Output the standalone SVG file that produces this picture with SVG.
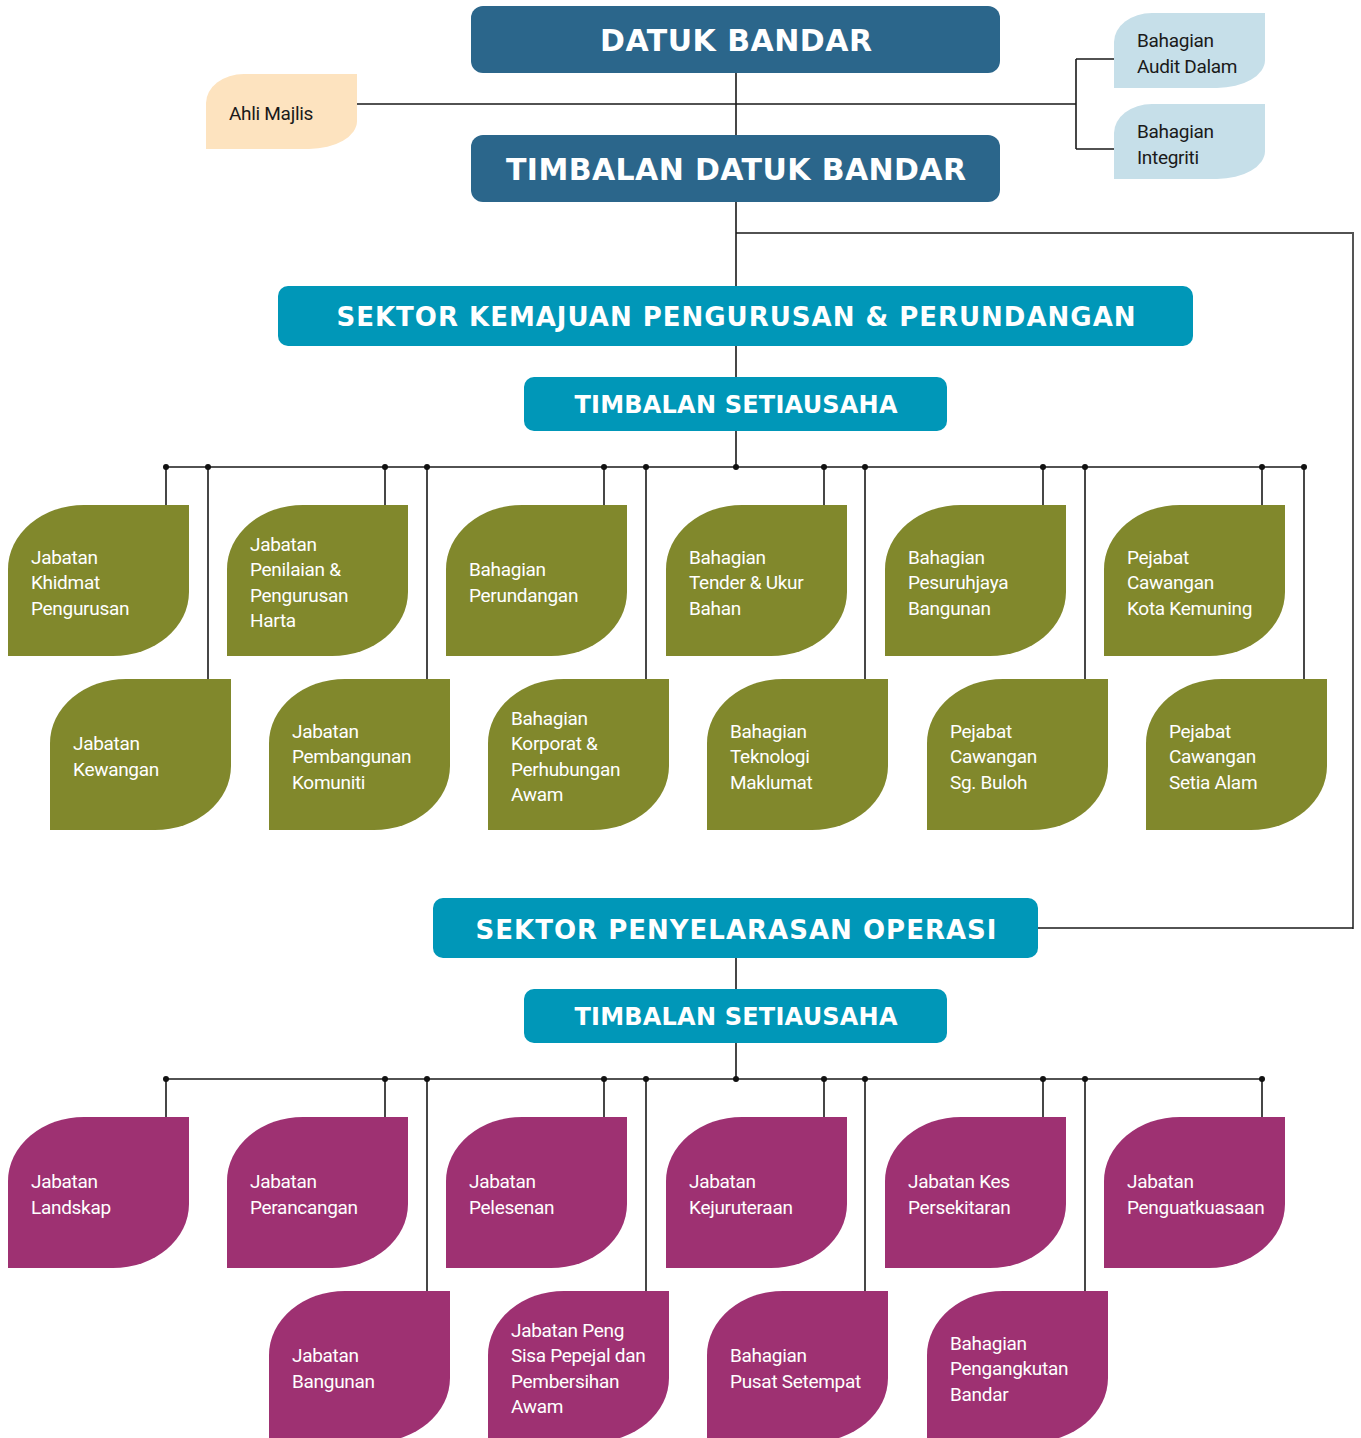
<svg xmlns="http://www.w3.org/2000/svg" xmlns:xlink="http://www.w3.org/1999/xlink" width="1361" height="1438" viewBox="0 0 1361 1438">
<style>
.hdr{font-family:"DejaVu Sans","Open Sans",sans-serif;font-weight:700;fill:#fff;text-anchor:middle}
.lf{font-family:Roboto,"Liberation Sans",sans-serif;font-size:19px;fill:#fff;letter-spacing:-0.3px}
.dk{font-family:Roboto,"Liberation Sans",sans-serif;font-size:19px;fill:#1a1a1a;letter-spacing:-0.3px}
.ln{stroke:#1a1a1a;stroke-width:1.6;fill:none}
.ln2{stroke:#555;stroke-width:2;fill:none}
.g{fill:#81882c}
.m{fill:#9e3172}
.db{fill:#2b668b}
.tl{fill:#0097b8}
</style>
<defs>
<path id="leaf" d="M0,151 V64 A76 64 0 0 1 76,0 H181 V87 A76 64 0 0 1 105,151 Z"/>
<path id="small" d="M0,75 V29 A38 29 0 0 1 38,0 H151 V47 A48 28 0 0 1 103,75 Z"/>
</defs>

<g id="connectors">
<path class="ln" d="M736,73 V135 M357,104 H1076 M1076,59 V149 M1076,59 H1114 M1076,149 H1114"/>
<path class="ln" d="M736,202 V286 M736,233 H1353"/>
<path class="ln2" d="M1353,232 V929"/>
<path class="ln" d="M1353,928 H1038"/>
<path class="ln" d="M736,346 V377 M736,431 V467 M166,467 H1305"/>
<path class="ln" d="M166,467 V505 M385,467 V505 M604,467 V505 M824,467 V505 M1043,467 V505 M1262,467 V505"/>
<path class="ln" d="M208,467 V679 M427,467 V679 M646,467 V679 M865,467 V679 M1085,467 V679 M1304,467 V679"/>
<path class="ln" d="M736,958 V989 M736,1043 V1079 M166,1079 H1263"/>
<path class="ln" d="M166,1079 V1117 M385,1079 V1117 M604,1079 V1117 M824,1079 V1117 M1043,1079 V1117 M1262,1079 V1117"/>
<path class="ln" d="M427,1079 V1291 M646,1079 V1291 M865,1079 V1291 M1085,1079 V1291"/>
<g fill="#111">
<circle cx="166" cy="467" r="3"/><circle cx="208" cy="467" r="3"/><circle cx="385" cy="467" r="3"/><circle cx="427" cy="467" r="3"/><circle cx="604" cy="467" r="3"/><circle cx="646" cy="467" r="3"/><circle cx="736" cy="467" r="3"/><circle cx="824" cy="467" r="3"/><circle cx="865" cy="467" r="3"/><circle cx="1043" cy="467" r="3"/><circle cx="1085" cy="467" r="3"/><circle cx="1262" cy="467" r="3"/><circle cx="1304" cy="467" r="3"/>
<circle cx="166" cy="1079" r="3"/><circle cx="385" cy="1079" r="3"/><circle cx="427" cy="1079" r="3"/><circle cx="604" cy="1079" r="3"/><circle cx="646" cy="1079" r="3"/><circle cx="736" cy="1079" r="3"/><circle cx="824" cy="1079" r="3"/><circle cx="865" cy="1079" r="3"/><circle cx="1043" cy="1079" r="3"/><circle cx="1085" cy="1079" r="3"/><circle cx="1262" cy="1079" r="3"/>
</g>
</g>

<g id="datuk-bandar"><rect class="db" x="471" y="6" width="529" height="67" rx="12"/><text class="hdr" x="736" y="51" font-size="30" textLength="272" lengthAdjust="spacing">DATUK BANDAR</text></g>
<g id="timbalan-datuk-bandar"><rect class="db" x="471" y="135" width="529" height="67" rx="12"/><text class="hdr" x="736" y="180" font-size="30" textLength="460" lengthAdjust="spacing">TIMBALAN DATUK BANDAR</text></g>
<g id="ahli-majlis"><use xlink:href="#small" x="206" y="74" fill="#fde3bf"/><text class="dk" x="229" y="120">Ahli Majlis</text></g>
<g id="audit-dalam"><use xlink:href="#small" x="1114" y="13" fill="#c6dfe9"/><text class="dk" x="1137" y="47">Bahagian<tspan x="1137" dy="25.5">Audit Dalam</tspan></text></g>
<g id="integriti"><use xlink:href="#small" x="1114" y="104" fill="#c6dfe9"/><text class="dk" x="1137" y="138">Bahagian<tspan x="1137" dy="25.5">Integriti</tspan></text></g>

<g id="sektor-kemajuan"><rect class="tl" x="278" y="286" width="915" height="60" rx="10"/><text class="hdr" x="736" y="326" font-size="26" textLength="799" lengthAdjust="spacing">SEKTOR KEMAJUAN PENGURUSAN &amp; PERUNDANGAN</text></g>
<g id="timbalan-setiausaha-1"><rect class="tl" x="524" y="377" width="423" height="54" rx="10"/><text class="hdr" x="736" y="413" font-size="24" textLength="323" lengthAdjust="spacing">TIMBALAN SETIAUSAHA</text></g>

<g id="g1"><use xlink:href="#leaf" x="8" y="505" class="g"/><text class="lf" x="31" y="563.5">Jabatan<tspan x="31" dy="25.5">Khidmat</tspan><tspan x="31" dy="25.5">Pengurusan</tspan></text></g>
<g id="g2"><use xlink:href="#leaf" x="227" y="505" class="g"/><text class="lf" x="250" y="550.75">Jabatan<tspan x="250" dy="25.5">Penilaian &amp;</tspan><tspan x="250" dy="25.5">Pengurusan</tspan><tspan x="250" dy="25.5">Harta</tspan></text></g>
<g id="g3"><use xlink:href="#leaf" x="446" y="505" class="g"/><text class="lf" x="469" y="576.25">Bahagian<tspan x="469" dy="25.5">Perundangan</tspan></text></g>
<g id="g4"><use xlink:href="#leaf" x="666" y="505" class="g"/><text class="lf" x="689" y="563.5">Bahagian<tspan x="689" dy="25.5">Tender &amp; Ukur</tspan><tspan x="689" dy="25.5">Bahan</tspan></text></g>
<g id="g5"><use xlink:href="#leaf" x="885" y="505" class="g"/><text class="lf" x="908" y="563.5">Bahagian<tspan x="908" dy="25.5">Pesuruhjaya</tspan><tspan x="908" dy="25.5">Bangunan</tspan></text></g>
<g id="g6"><use xlink:href="#leaf" x="1104" y="505" class="g"/><text class="lf" x="1127" y="563.5">Pejabat<tspan x="1127" dy="25.5">Cawangan</tspan><tspan x="1127" dy="25.5">Kota Kemuning</tspan></text></g>

<g id="g7"><use xlink:href="#leaf" x="50" y="679" class="g"/><text class="lf" x="73" y="750.25">Jabatan<tspan x="73" dy="25.5">Kewangan</tspan></text></g>
<g id="g8"><use xlink:href="#leaf" x="269" y="679" class="g"/><text class="lf" x="292" y="737.5">Jabatan<tspan x="292" dy="25.5">Pembangunan</tspan><tspan x="292" dy="25.5">Komuniti</tspan></text></g>
<g id="g9"><use xlink:href="#leaf" x="488" y="679" class="g"/><text class="lf" x="511" y="724.75">Bahagian<tspan x="511" dy="25.5">Korporat &amp;</tspan><tspan x="511" dy="25.5">Perhubungan</tspan><tspan x="511" dy="25.5">Awam</tspan></text></g>
<g id="g10"><use xlink:href="#leaf" x="707" y="679" class="g"/><text class="lf" x="730" y="737.5">Bahagian<tspan x="730" dy="25.5">Teknologi</tspan><tspan x="730" dy="25.5">Maklumat</tspan></text></g>
<g id="g11"><use xlink:href="#leaf" x="927" y="679" class="g"/><text class="lf" x="950" y="737.5">Pejabat<tspan x="950" dy="25.5">Cawangan</tspan><tspan x="950" dy="25.5">Sg. Buloh</tspan></text></g>
<g id="g12"><use xlink:href="#leaf" x="1146" y="679" class="g"/><text class="lf" x="1169" y="737.5">Pejabat<tspan x="1169" dy="25.5">Cawangan</tspan><tspan x="1169" dy="25.5">Setia Alam</tspan></text></g>

<g id="sektor-penyelarasan"><rect class="tl" x="433" y="898" width="605" height="60" rx="10"/><text class="hdr" x="736" y="939" font-size="26" textLength="521" lengthAdjust="spacing">SEKTOR PENYELARASAN OPERASI</text></g>
<g id="timbalan-setiausaha-2"><rect class="tl" x="524" y="989" width="423" height="54" rx="10"/><text class="hdr" x="736" y="1025" font-size="24" textLength="323" lengthAdjust="spacing">TIMBALAN SETIAUSAHA</text></g>

<g id="m1"><use xlink:href="#leaf" x="8" y="1117" class="m"/><text class="lf" x="31" y="1188.25">Jabatan<tspan x="31" dy="25.5">Landskap</tspan></text></g>
<g id="m2"><use xlink:href="#leaf" x="227" y="1117" class="m"/><text class="lf" x="250" y="1188.25">Jabatan<tspan x="250" dy="25.5">Perancangan</tspan></text></g>
<g id="m3"><use xlink:href="#leaf" x="446" y="1117" class="m"/><text class="lf" x="469" y="1188.25">Jabatan<tspan x="469" dy="25.5">Pelesenan</tspan></text></g>
<g id="m4"><use xlink:href="#leaf" x="666" y="1117" class="m"/><text class="lf" x="689" y="1188.25">Jabatan<tspan x="689" dy="25.5">Kejuruteraan</tspan></text></g>
<g id="m5"><use xlink:href="#leaf" x="885" y="1117" class="m"/><text class="lf" x="908" y="1188.25">Jabatan Kes<tspan x="908" dy="25.5">Persekitaran</tspan></text></g>
<g id="m6"><use xlink:href="#leaf" x="1104" y="1117" class="m"/><text class="lf" x="1127" y="1188.25">Jabatan<tspan x="1127" dy="25.5">Penguatkuasaan</tspan></text></g>

<g id="m7"><use xlink:href="#leaf" x="269" y="1291" class="m"/><text class="lf" x="292" y="1362.25">Jabatan<tspan x="292" dy="25.5">Bangunan</tspan></text></g>
<g id="m8"><use xlink:href="#leaf" x="488" y="1291" class="m"/><text class="lf" x="511" y="1336.75">Jabatan Peng<tspan x="511" dy="25.5">Sisa Pepejal dan</tspan><tspan x="511" dy="25.5">Pembersihan</tspan><tspan x="511" dy="25.5">Awam</tspan></text></g>
<g id="m9"><use xlink:href="#leaf" x="707" y="1291" class="m"/><text class="lf" x="730" y="1362.25">Bahagian<tspan x="730" dy="25.5">Pusat Setempat</tspan></text></g>
<g id="m10"><use xlink:href="#leaf" x="927" y="1291" class="m"/><text class="lf" x="950" y="1349.5">Bahagian<tspan x="950" dy="25.5">Pengangkutan</tspan><tspan x="950" dy="25.5">Bandar</tspan></text></g>
</svg>
